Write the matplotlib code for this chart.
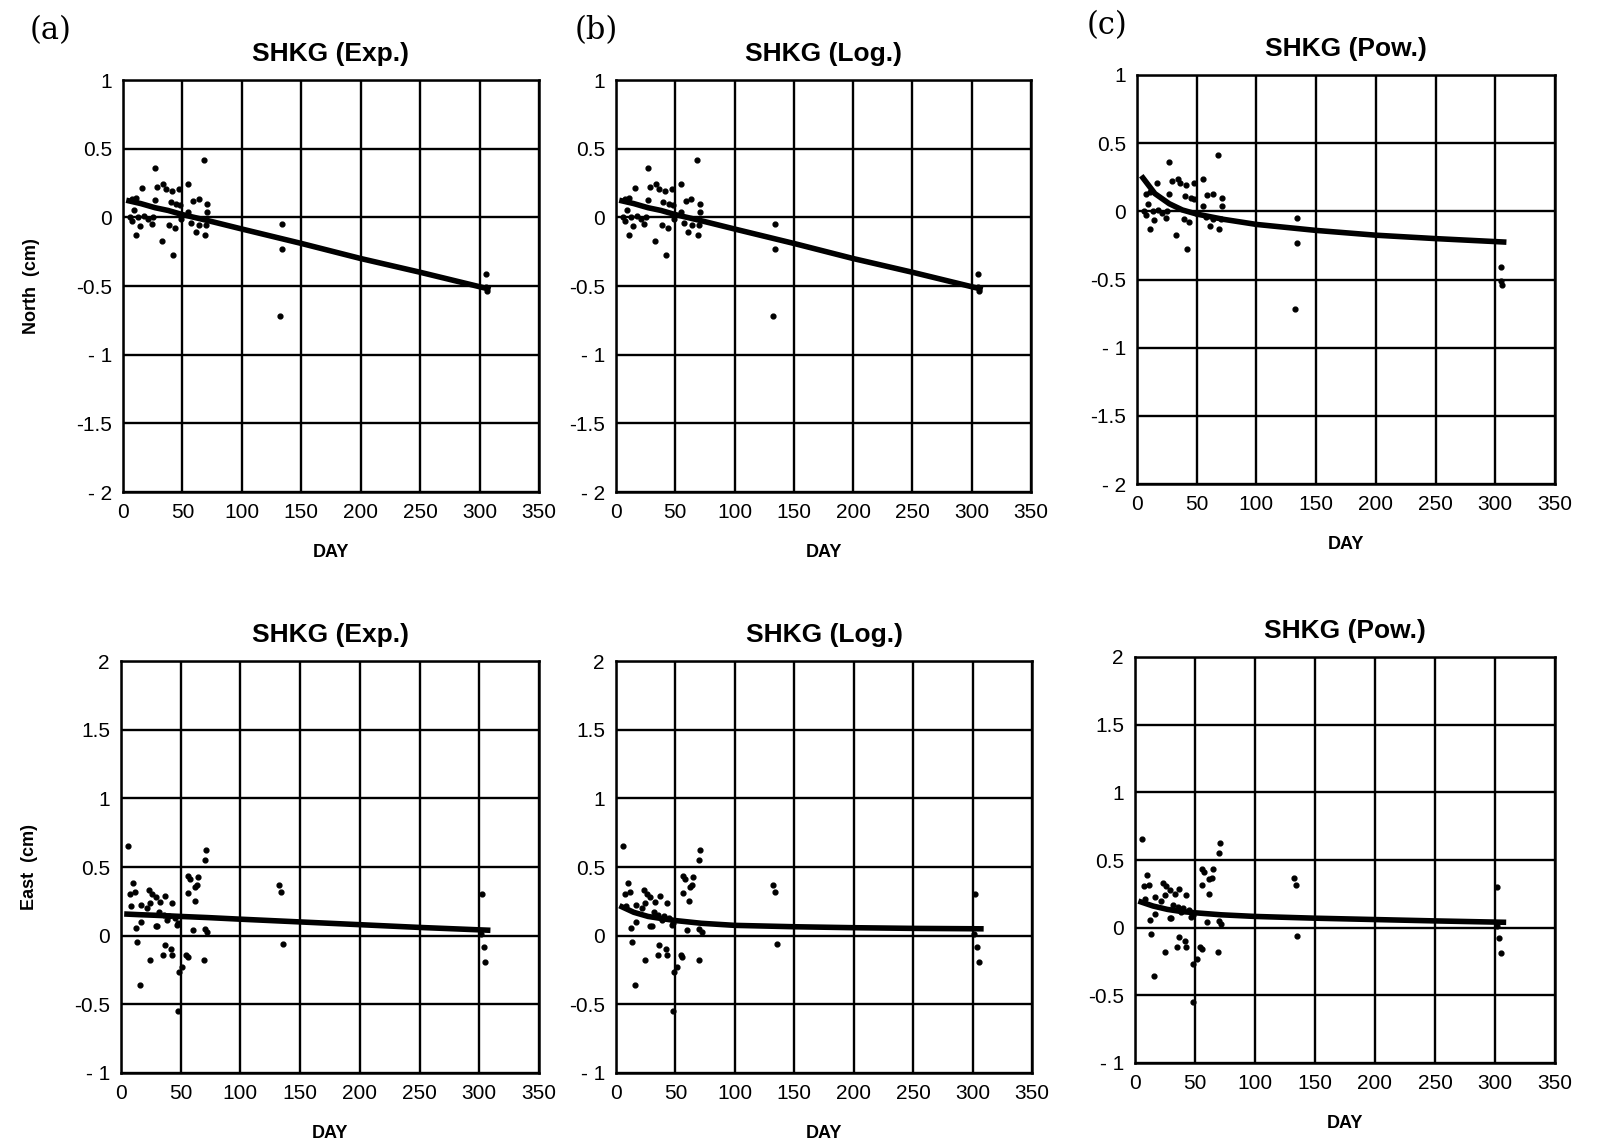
import numpy as np
import matplotlib.pyplot as plt

plt.rcParams['font.family'] = ['Liberation Sans', 'DejaVu Sans']

# north component, scatter (day, cm)
north_day = [6, 7.5, 7.5, 9, 10.8, 11, 13, 14, 16.4, 18, 21, 24, 25.5, 27, 27,
             29, 32.5, 34, 36, 39, 40, 41, 42, 43.6, 45, 47.5, 48, 49, 55, 55,
             57.5, 59, 61, 63.6, 64, 68, 69, 70, 71, 71,
             134, 134, 132.5, 305, 305, 306]
north_val = [0.0, -0.03, 0.13, 0.055, 0.14, -0.13, 0.0, -0.06, 0.21, 0.01, -0.01,
             -0.05, 0.0, 0.36, 0.125, 0.22, -0.175, 0.24, 0.205, -0.055, 0.11,
             0.195, -0.275, -0.075, 0.10, 0.205, 0.09, -0.01, 0.24, 0.04, -0.04,
             0.12, -0.11, 0.13, -0.055, 0.415, -0.13, -0.055, 0.095, 0.04,
             -0.05, -0.23, -0.72, -0.41, -0.51, -0.54]

# east component, scatter (day, cm)
east_day = [6, 70.9, 70, 10.4, 7.7, 11.5, 23.4, 26, 29, 33, 37, 42.6, 24.7, 56,
            57.7, 64.6, 64, 62, 56, 61.8, 8, 17, 22, 31.6, 35.7, 40, 45, 48,
            16.5, 12.4, 29, 30, 38.5, 46.7, 60, 70, 72, 13.7, 36.5, 24.7, 35,
            41.8, 42.6, 54.4, 55.8, 69.5, 51.4, 48.6, 15.7, 48,
            132.4, 133.8, 135.4, 302, 301.4, 303.6, 305]
east_val = [0.656, 0.627, 0.553, 0.386, 0.307, 0.317, 0.332, 0.307, 0.28, 0.246,
            0.287, 0.238, 0.238, 0.435, 0.41, 0.43, 0.366, 0.356, 0.312, 0.25,
            0.214, 0.226, 0.2, 0.17, 0.152, 0.145, 0.128, 0.09, 0.103, 0.054,
            0.071, 0.071, 0.115, 0.079, 0.042, 0.047, 0.03, -0.049, -0.069,
            -0.179, -0.14, -0.1, -0.14, -0.14, -0.155, -0.179, -0.23, -0.265,
            -0.36, -0.55,
            0.366, 0.317, -0.064, 0.30, 0.01, -0.08, -0.19]

# fitted curves
fit_day = [5, 15, 27, 38, 50, 72, 100, 150, 200, 250, 307]
north_exp = [0.12, 0.10, 0.07, 0.05, 0.02, -0.025, -0.085, -0.19, -0.30, -0.40, -0.52]
north_log = [0.12, 0.10, 0.07, 0.05, 0.02, -0.025, -0.085, -0.19, -0.30, -0.40, -0.52]
north_pow = [0.245, 0.13, 0.056, 0.01, -0.02, -0.058, -0.096, -0.14, -0.175, -0.20, -0.225]
east_exp = [0.157, 0.153, 0.149, 0.145, 0.14, 0.132, 0.12, 0.10, 0.08, 0.06, 0.04]
east_log = [0.21, 0.17, 0.14, 0.125, 0.11, 0.09, 0.075, 0.065, 0.058, 0.053, 0.05]
east_pow = [0.19, 0.16, 0.135, 0.12, 0.11, 0.095, 0.083, 0.07, 0.06, 0.05, 0.04]

W, H = 1603, 1140
fig = plt.figure(figsize=(W / 100, H / 100), dpi=100)


def box(l, r, t, b):
    return [l / W, 1 - b / H, (r - l) / W, (b - t) / H]


north_boxes = [box(123, 539, 80, 492), box(616, 1031, 80, 492), box(1137, 1555, 75, 484)]
east_boxes = [box(121, 539, 661, 1073), box(616, 1032, 661, 1073), box(1135, 1555, 657, 1063)]
names = ["SHKG (Exp.)", "SHKG (Log.)", "SHKG (Pow.)"]
north_fits = [north_exp, north_log, north_pow]
east_fits = [east_exp, east_log, east_pow]


def draw(ax, day, val, fit, yticks, ylabels, title):
    ax.set_xlim(0, 350)
    ax.set_ylim(yticks[0], yticks[-1])
    ax.set_xticks(range(0, 351, 50))
    ax.set_yticks(yticks)
    ax.set_yticklabels(ylabels)
    ax.grid(True, color='black', linewidth=1.7)
    ax.set_axisbelow(True)
    for s in ax.spines.values():
        s.set_linewidth(1.8)
    ax.tick_params(length=0, labelsize=15, pad=8)
    ax.scatter(day, val, s=12, marker='o', color='black', zorder=3)
    ax.plot(fit_day, fit, color='black', linewidth=4, zorder=4)
    ax.set_title(title, fontsize=19, fontweight='bold', pad=14)
    ax.set_xlabel("DAY", fontsize=13, fontweight='bold', labelpad=16)


for i in range(3):
    ax = fig.add_axes(north_boxes[i])
    draw(ax, north_day, north_val, north_fits[i],
         [-2, -1.5, -1, -0.5, 0, 0.5, 1],
         ["- 2", "-1.5", "- 1", "-0.5", "0", "0.5", "1"], names[i])
    if i == 0:
        ax.set_ylabel("North  (cm)", fontsize=13, fontweight='bold', labelpad=26)

    ax = fig.add_axes(east_boxes[i])
    draw(ax, east_day, east_val, east_fits[i],
         [-1, -0.5, 0, 0.5, 1, 1.5, 2],
         ["- 1", "-0.5", "0", "0.5", "1", "1.5", "2"], names[i])
    if i == 0:
        ax.set_ylabel("East  (cm)", fontsize=13, fontweight='bold', labelpad=26)

# panel letters
for x, y, lab in [(51, 31, "(a)"), (596, 31, "(b)"), (1107, 26, "(c)")]:
    fig.text(x / W, 1 - y / H, lab, fontsize=22, family='DejaVu Serif',
             ha='center', va='center')

fig.savefig("out.png", dpi=100)
